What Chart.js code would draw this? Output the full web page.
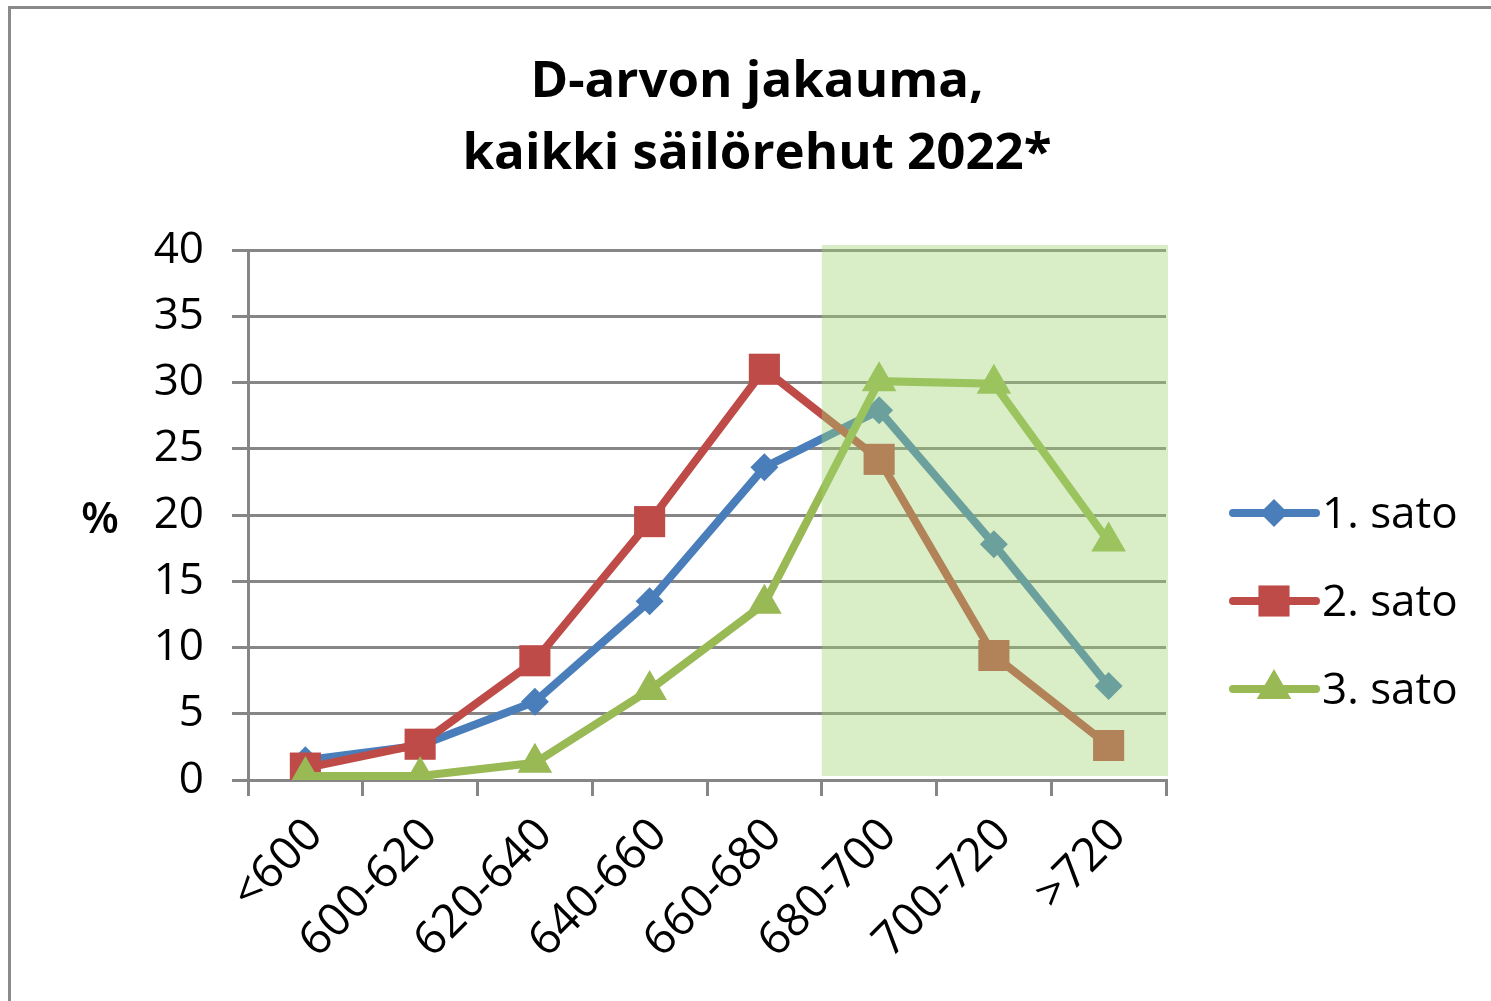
<!DOCTYPE html>
<html>
<head>
<meta charset="utf-8">
<script src="https://cdn.jsdelivr.net/npm/chart.js@4.4.1/dist/chart.umd.min.js"></script>
<style>
    html, body { margin: 0; padding: 0; background: #fff; }
    #frame {
        position: absolute; left: 8px; top: 6px; width: 1500px; height: 1010px;
        border-left: 3px solid #8a8a8a; border-top: 3px solid #8a8a8a;
    }
    #wrap { position: absolute; left: 0; top: 0; width: 1491px; height: 1001px; }
</style>
</head>
<body>
<div id="frame"></div>
<div id="wrap"><canvas id="chart" width="1491" height="1001"></canvas></div>
<script>
// ===== DATOS =====
const categorias = ['<600', '600-620', '620-640', '640-660', '660-680', '680-700', '700-720', '>720'];
const sato1 = [1.5, 2.6, 5.9, 13.5, 23.6, 27.9, 17.8, 7.1];
const sato2 = [0.9, 2.7, 9.0, 19.5, 31.0, 24.2, 9.4, 2.6];
const sato3 = [0.3, 0.3, 1.3, 6.8, 13.3, 30.1, 29.9, 18.0];
const nimet = ['1. sato', '2. sato', '3. sato'];
const yTicks = [0, 5, 10, 15, 20, 25, 30, 35, 40];
const otsikko = ['D-arvon jakauma,', 'kaikki säilörehut 2022*'];
const yOtsikko = '%';

const FONT = "'Open Sans', 'Noto Sans', sans-serif";
const GRID = '#868686';
const colors = ['#4a7ebb', '#be4b48', '#98b954'];
const styles = ['rectRot', 'rect', 'triangle'];
const radii = [14, 22, 20];

// Título, sombreado verde (680-700 ... >720) encima de las líneas, "%" y leyenda
const extrasPlugin = {
    id: 'extras',
    afterDatasetsDraw(chart) {
        const { ctx, chartArea, scales } = chart;
        const x0 = (scales.x.getPixelForValue(4) + scales.x.getPixelForValue(5)) / 2;
        ctx.save();
        ctx.fillStyle = 'rgba(160, 212, 112, 0.4)';
        ctx.fillRect(x0, chartArea.top - 5, chartArea.right + 2 - x0, chartArea.bottom - 4 - (chartArea.top - 5));
        ctx.restore();
    },
    afterDraw(chart) {
        const { ctx } = chart;
        ctx.save();
        ctx.fillStyle = '#000';
        ctx.textAlign = 'center';
        ctx.textBaseline = 'middle';

        // título
        ctx.font = `bold 51px ${FONT}`;
        ctx.fillText(otsikko[0], 757, 82);
        ctx.fillText(otsikko[1], 757, 154);

        ctx.font = `600 44px ${FONT}`;
        ctx.fillText(yOtsikko, 100, 520);

        // leyenda
        const ys = [513, 601, 689];
        ctx.font = `44px ${FONT}`;
        ctx.textAlign = 'left';
        nimet.forEach((n, i) => {
            ctx.strokeStyle = colors[i];
            ctx.lineWidth = 8;
            ctx.lineCap = 'round';
            ctx.beginPath();
            ctx.moveTo(1233, ys[i]);
            ctx.lineTo(1316, ys[i]);
            ctx.stroke();
            ctx.fillStyle = colors[i];
            Chart.helpers.drawPoint(ctx, { pointStyle: styles[i], radius: radii[i], borderWidth: 0 }, 1274, ys[i]);
            ctx.fillStyle = '#000';
            ctx.fillText(n, 1322, ys[i] + 2);
        });
        ctx.restore();
    }
};

const mkSet = (label, data, i, order) => ({
    label: label,
    data: data,
    borderColor: colors[i],
    backgroundColor: colors[i],
    borderWidth: 8,
    pointStyle: styles[i],
    pointRadius: radii[i],
    pointBorderWidth: 0,
    tension: 0,
    order: order
});

new Chart(document.getElementById('chart').getContext('2d'), {
    type: 'line',
    data: {
        labels: categorias,
        datasets: [
            mkSet(nimet[0], sato1, 0, 3),
            mkSet(nimet[1], sato2, 1, 2),
            mkSet(nimet[2], sato3, 2, 1)
        ]
    },
    plugins: [extrasPlugin],
    options: {
        responsive: false,
        animation: false,
        layout: { padding: { top: 250, right: 325, bottom: 0, left: 0 } },
        plugins: {
            legend: { display: false },
            tooltip: { enabled: false },
            title: { display: false }
        },
        scales: {
            x: {
                offset: true,
                afterFit(scale) { scale.height = 221; },
                grid: {
                    offset: true,
                    drawOnChartArea: false,
                    drawTicks: true,
                    tickLength: 16,
                    color: GRID,
                    lineWidth: 3
                },
                border: { display: true, color: GRID, width: 3 },
                ticks: {
                    color: '#000',
                    font: { family: FONT, size: 46 },
                    minRotation: 45,
                    maxRotation: 45,
                    padding: 12,
                    labelOffset: 10,
                    autoSkip: false
                }
            },
            y: {
                min: 0,
                max: 40,
                afterFit(scale) { scale.width = 248; },
                afterBuildTicks(scale) { scale.ticks = yTicks.map(v => ({ value: v })); },
                grid: {
                    color: GRID,
                    lineWidth: 3,
                    drawTicks: true,
                    tickLength: 16
                },
                border: { display: true, color: GRID, width: 3 },
                ticks: {
                    color: '#000',
                    font: { family: FONT, size: 44 },
                    padding: 28
                }
            }
        }
    }
});
</script>
</body>
</html>
